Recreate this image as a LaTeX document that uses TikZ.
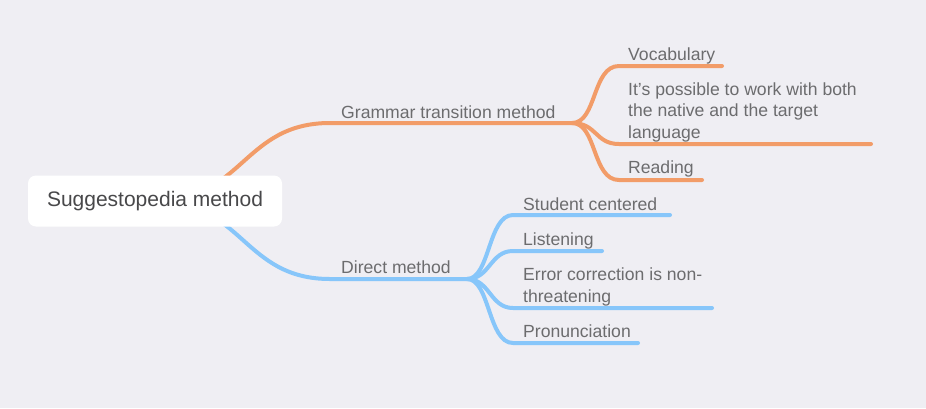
\documentclass[tikz,border=0pt]{standalone}
\usepackage{fontspec}
\setmainfont{Liberation Sans}
\usetikzlibrary{positioning}
\definecolor{bgcol}{RGB}{239,238,243}
\definecolor{orangebr}{RGB}{242,156,104}
\definecolor{bluebr}{RGB}{135,198,250}
\definecolor{topicgray}{RGB}{108,108,110}
\definecolor{rootgray}{RGB}{72,72,74}
\begin{document}
\begin{tikzpicture}[x = 1pt, y = -1pt,
  branch/.style = {line width = 4pt, line cap = round},
  topic/.style = {anchor = base west, inner sep = 0pt, align = left, text = topicgray, font = \fontsize{17.6}{21.5}\selectfont},
  rootbox/.style = {fill = white, rounded corners = 8pt, minimum width = 254pt, minimum height = 51pt, text = rootgray, font = \fontsize{21}{25}\selectfont}]
\fill[bgcol] (0,0) rectangle (926,408);
\useasboundingbox (0,0) rectangle (926,408);
\coordinate (hub) at (155,201);
% grammar branch
\coordinate (g0) at (330,123);
\coordinate (gfork) at (572,123);
\draw[branch, orangebr] (hub) .. controls (243,201) and (243,123) .. (g0) -- (gfork);
\node[topic] (gram) at (341,118) {Grammar transition method};
\coordinate (v0) at (619,66);
\coordinate (v1) at (722,66);
\draw[branch, orangebr] (gfork) .. controls (597,123) and (592,66) .. (v0) -- (v1);
\node[topic] (vocab) at (628,60) {Vocabulary};
\coordinate (p0) at (619,144);
\coordinate (p1) at (871,144);
\draw[branch, orangebr] (gfork) .. controls (597,123) and (595,144) .. (p0) -- (p1);
\node[topic] (both) at (628,138) {It’s possible to work with both\\the native and the target\\language};
\coordinate (r0) at (619,180);
\coordinate (r1) at (702,180);
\draw[branch, orangebr] (gfork) .. controls (597,123) and (592,180) .. (r0) -- (r1);
\node[topic] (read) at (628,173) {Reading};
% direct branch
\coordinate (d0) at (330,279);
\coordinate (dfork) at (467,279);
\draw[branch, bluebr] (hub) .. controls (243,201) and (243,279) .. (d0) -- (dfork);
\node[topic] (direct) at (341,273) {Direct method};
\coordinate (s0) at (513,215);
\coordinate (s1) at (670,215);
\draw[branch, bluebr] (dfork) .. controls (490,279) and (488,215) .. (s0) -- (s1);
\node[topic] (stud) at (523,210) {Student centered};
\coordinate (l0) at (513,251);
\coordinate (l1) at (602,251);
\draw[branch, bluebr] (dfork) .. controls (490,279) and (490,251) .. (l0) -- (l1);
\node[topic] (listen) at (523,245) {Listening};
\coordinate (e0) at (513,308);
\coordinate (e1) at (712,308);
\draw[branch, bluebr] (dfork) .. controls (490,279) and (490,308) .. (e0) -- (e1);
\node[topic] (error) at (523,302) {Error correction is non-\\threatening};
\coordinate (n0) at (513,343);
\coordinate (n1) at (638,343);
\draw[branch, bluebr] (dfork) .. controls (490,279) and (488,343) .. (n0) -- (n1);
\node[topic] (pron) at (523,337) {Pronunciation};
% root on top
\node[rootbox] (root) at (hub) {Suggestopedia method};
\end{tikzpicture}
\end{document}
